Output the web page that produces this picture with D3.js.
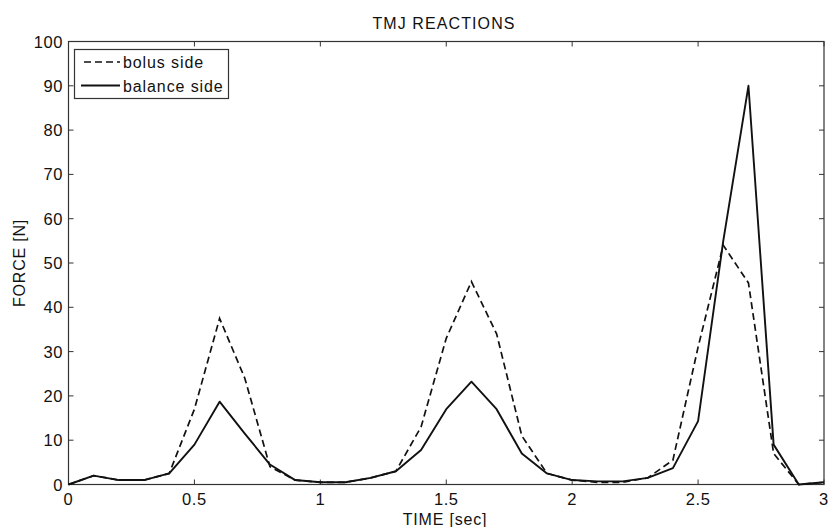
<!DOCTYPE html>
<html><head><meta charset="utf-8">
<script src="https://cdn.jsdelivr.net/npm/d3@7"></script>
<style>body{margin:0;background:#fff;} text{font-family:"Liberation Sans",Arial,sans-serif;fill:#111;}</style>
</head><body><svg id="c" width="828" height="527"></svg>
<script>
const time = d3.range(31).map(i => +(i * 0.1).toFixed(1));
const bolusSide = [0,2,1,1,2.5,17,37.5,24,4,1,0.5,0.5,1.5,3,13,33,45.8,34,11,2.5,1,0.5,0.5,1.5,5.5,31,54,45.5,7,0,0.5];
const balanceSide = [0,2,1,1,2.5,9,18.7,11.5,4.5,1,0.5,0.5,1.5,3,7.8,17,23.2,17,7,2.5,1,0.7,0.7,1.5,3.7,14.3,55,90,9,0,0.5];
const xTicks = [0,0.5,1,1.5,2,2.5,3];
const xTickLabels = ["0","0.5","1","1.5","2","2.5","3"];
const yTicks = [0,10,20,30,40,50,60,70,80,90,100];
const seriesNames = ["bolus side","balance side"];

const svg = d3.select("#c");
const L = 68.5, R = 824, T = 41.5, B = 484.5;
const x = d3.scaleLinear().domain([0,3]).range([L,R]);
const y = d3.scaleLinear().domain([0,100]).range([B,T]);
const tl = 5;

const g = svg.append("g");
g.append("rect").attr("x",L).attr("y",T).attr("width",R-L).attr("height",B-T)
  .attr("fill","none").attr("stroke","#333").attr("stroke-width",1.2);

xTicks.forEach((t,i) => {
  g.append("line").attr("x1",x(t)).attr("x2",x(t)).attr("y1",B).attr("y2",B-tl).attr("stroke","#333");
  g.append("line").attr("x1",x(t)).attr("x2",x(t)).attr("y1",T).attr("y2",T+tl).attr("stroke","#333");
  g.append("text").attr("x",x(t)).attr("y",B+20.5).attr("text-anchor","middle")
    .attr("font-size",16.5).attr("letter-spacing",0.6).text(xTickLabels[i]);
});
yTicks.forEach(t => {
  g.append("line").attr("x1",L).attr("x2",L+tl).attr("y1",y(t)).attr("y2",y(t)).attr("stroke","#333");
  g.append("line").attr("x1",R).attr("x2",R-tl).attr("y1",y(t)).attr("y2",y(t)).attr("stroke","#333");
  g.append("text").attr("x",L-5.5).attr("y",y(t)+6).attr("text-anchor","end")
    .attr("font-size",16.5).attr("letter-spacing",0.6).text(t);
});

const line = d3.line().x((d,i)=>x(time[i])).y(d=>y(d));
g.append("path").datum(balanceSide).attr("d",line).attr("fill","none")
  .attr("stroke","#111").attr("stroke-width",1.9).attr("stroke-linejoin","round");
g.append("path").datum(bolusSide).attr("d",line).attr("fill","none")
  .attr("stroke","#111").attr("stroke-width",1.7).attr("stroke-dasharray","7,4");

svg.append("text").attr("x",444).attr("y",29).attr("text-anchor","middle").attr("font-size",16).attr("letter-spacing",1.1).text("TMJ REACTIONS");
svg.append("text").attr("x",445).attr("y",525).attr("text-anchor","middle").attr("font-size",16).attr("letter-spacing",0.8).text("TIME [sec]");
svg.append("text").attr("transform",`translate(25,${(T+B)/2}) rotate(-90)`).attr("text-anchor","middle").attr("font-size",16).attr("letter-spacing",0.8).text("FORCE [N]");

const lg = svg.append("g");
lg.append("rect").attr("x",74.5).attr("y",49.5).attr("width",154).attr("height",49)
  .attr("fill","#fff").attr("stroke","#333").attr("stroke-width",1.2);
lg.append("line").attr("x1",84).attr("x2",120).attr("y1",62).attr("y2",62).attr("stroke","#111").attr("stroke-width",1.7).attr("stroke-dasharray","7,4");
lg.append("line").attr("x1",81).attr("x2",120).attr("y1",85.5).attr("y2",85.5).attr("stroke","#111").attr("stroke-width",1.9);
lg.append("text").attr("x",123).attr("y",68).attr("font-size",16).attr("letter-spacing",0.9).text(seriesNames[0]);
lg.append("text").attr("x",123).attr("y",91.5).attr("font-size",16).attr("letter-spacing",0.9).text(seriesNames[1]);
</script></body></html>
